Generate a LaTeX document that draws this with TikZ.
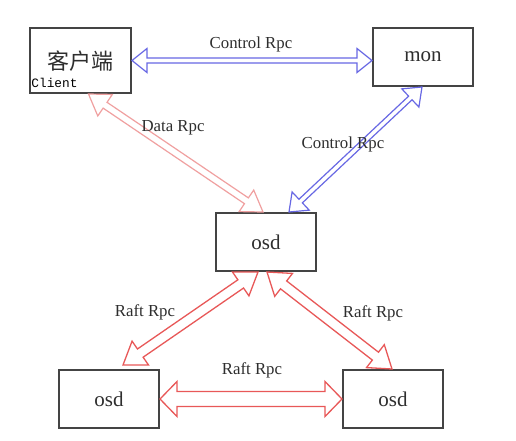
\documentclass[tikz,border=0pt]{standalone}
\usepackage{fontspec}
\setmainfont{Liberation Serif}
\newfontfamily\cjkfont{Noto Sans CJK SC}
\newfontfamily\monofont{Liberation Mono}
\usetikzlibrary{calc}
\definecolor{boxline}{HTML}{444444}
\definecolor{txt}{HTML}{2E2E2E}
\definecolor{ctrlblue}{HTML}{6868E4}
\definecolor{datared}{HTML}{F0A0A0}
\definecolor{raftred}{HTML}{E85858}
\newcommand\dblarr[6]{%
  \coordinate (hA) at ($(#2)!#6!(#3)$);
  \coordinate (hB) at ($(#3)!#6!(#2)$);
  \draw[#1] (#2) -- ($(hA)!#5!90:(#3)$) -- ($(hA)!#4!90:(#3)$)
    -- ($(hB)!#4!-90:(#2)$) -- ($(hB)!#5!-90:(#2)$) -- (#3)
    -- ($(hB)!#5!90:(#2)$) -- ($(hB)!#4!90:(#2)$)
    -- ($(hA)!#4!-90:(#3)$) -- ($(hA)!#5!-90:(#3)$) -- cycle;
}
\begin{document}
\begin{tikzpicture}[x=1pt,y=-1pt,
  box/.style={draw=boxline, line width=2pt, fill=white, inner sep=0pt},
  boxtext/.style={font=\fontsize{21}{24}\selectfont, text=txt},
  lbl/.style={font=\fontsize{16.8}{19}\selectfont, text=txt, inner sep=0pt},
  ctrl/.style={draw=ctrlblue, line width=1.2pt, line join=miter},
  data/.style={draw=datared, line width=1.2pt, line join=miter},
  raft/.style={draw=raftred, line width=1.3pt, line join=miter}]
\useasboundingbox (0,0) rectangle (516,440);
\fill[white] (0,0) rectangle (516,440);

% boxes
\node[box, minimum width=101pt, minimum height=65pt] (client) at (80.5,60.5) {};
\node[text=txt, font=\cjkfont\fontsize{22}{24}\selectfont] (clienttxt) at (80.5,61) {客户端};
\node[fill=white, inner sep=0.6pt, anchor=west, text=black,
      font=\monofont\fontsize{12.8}{14}\selectfont] (clientlbl) at (30.6,82.5) {Client};
\node[box, minimum width=100pt, minimum height=58pt, boxtext] (mon) at (423,57) {mon};
\node[box, minimum width=100pt, minimum height=58pt, boxtext] (osd) at (266,242) {osd};
\node[box, minimum width=100pt, minimum height=58pt, boxtext] (osdl) at (109,399) {osd};
\node[box, minimum width=100pt, minimum height=58pt, boxtext] (osdr) at (393,399) {osd};

% connector end points
\coordinate (cA) at (client.east);
\coordinate (cB) at (mon.west |- client.east);
\coordinate (mA) at ($(mon.south)+(-1,0)$);
\coordinate (mB) at ($(osd.north)+(23,0)$);
\coordinate (dA) at ($(client.south)+(8,0)$);
\coordinate (dB) at ($(osd.north)+(-3,0)$);
\coordinate (lA) at ($(osd.south)+(-8,0)$);
\coordinate (lB) at ($(osdl.north)+(14,-4)$);
\coordinate (rA) at ($(osd.south)+(1,0)$);
\coordinate (rB) at ($(osdr.north)+(-1,0)$);
\coordinate (bA) at (osdl.east);
\coordinate (bB) at (osdr.west);

% connectors
\dblarr{ctrl}{cA}{cB}{2.5pt}{12pt}{15pt}
\dblarr{ctrl}{mA}{mB}{2.5pt}{12.5pt}{16pt}
\dblarr{data}{dA}{dB}{3.5pt}{13pt}{20pt}
\dblarr{raft}{lA}{lB}{5pt}{14.5pt}{21pt}
\dblarr{raft}{rA}{rB}{5pt}{14.5pt}{21pt}
\dblarr{raft}{bA}{bB}{7.5pt}{17.5pt}{17pt}

% labels
\node[lbl] (l1) at (251,44) {Control Rpc};
\node[lbl] (l2) at (173,128) {Data Rpc};
\node[lbl] (l3) at (343,144) {Control Rpc};
\node[lbl] (l4) at (145,312.5) {Raft Rpc};
\node[lbl] (l5) at (373,313) {Raft Rpc};
\node[lbl] (l6) at (252,370) {Raft Rpc};
\end{tikzpicture}
\end{document}
